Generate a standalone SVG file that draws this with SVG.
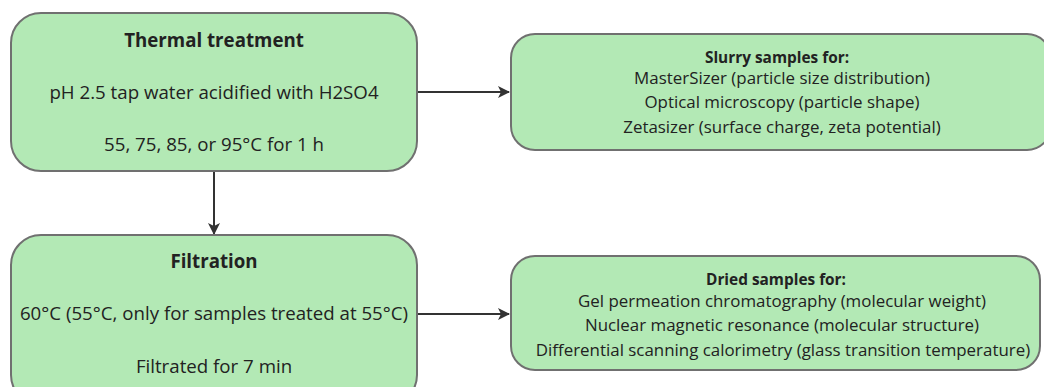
<svg xmlns="http://www.w3.org/2000/svg" width="1044" height="387" viewBox="0 0 1044 387">
<defs>
<marker id="arr" viewBox="0 0 12 12" refX="11" refY="6" markerWidth="12" markerHeight="12" markerUnits="userSpaceOnUse" orient="auto">
<path d="M0,0 L12,6 L0,12 L3,6 Z" fill="#333"/>
</marker>
</defs>
<style>
.box{fill:#b3e9b5;stroke:#707070;stroke-width:2}
.t{font-family:"Open Sans","Noto Sans",sans-serif;font-size:18.7px;fill:#222;text-anchor:middle}
.b{font-weight:bold}
.s{font-size:16.9px}
.h{font-size:15.4px}
.c{stroke:#333;stroke-width:2;fill:none}
</style>
<rect width="1044" height="387" fill="#fff"/>
<g id="connectors">
<line class="c" x1="417" y1="92" x2="509" y2="92" marker-end="url(#arr)"/>
<line class="c" x1="214" y1="171" x2="214" y2="234" marker-end="url(#arr)"/>
<line class="c" x1="417" y1="314" x2="509" y2="314" marker-end="url(#arr)"/>
</g>
<g id="thermal">
<rect class="box" x="11" y="13" width="406" height="158" rx="30"/>
<text class="t b" x="214" y="47">Thermal treatment</text>
<text class="t" x="214" y="99">pH 2.5 tap water acidified with H2SO4</text>
<text class="t" x="214" y="151">55, 75, 85, or 95°C for 1 h</text>
</g>
<g id="filtration">
<rect class="box" x="11" y="235" width="406" height="170" rx="30"/>
<text class="t b" x="214" y="268">Filtration</text>
<text class="t" x="214" y="320">60°C (55°C, only for samples treated at 55°C)</text>
<text class="t" x="214" y="373">Filtrated for 7 min</text>
</g>
<g id="slurry">
<rect class="box" x="511" y="34" width="540" height="116" rx="24"/>
<text class="t b h" x="777" y="63">Slurry samples for:</text>
<text class="t s" x="782" y="84">MasterSizer (particle size distribution)</text>
<text class="t s" x="782" y="108">Optical microscopy (particle shape)</text>
<text class="t s" x="782" y="133">Zetasizer (surface charge, zeta potential)</text>
</g>
<g id="dried">
<rect class="box" x="511" y="256" width="529" height="114" rx="24"/>
<text class="t b h" x="776" y="285">Dried samples for:</text>
<text class="t s" x="782" y="307">Gel permeation chromatography (molecular weight)</text>
<text class="t s" x="782" y="331">Nuclear magnetic resonance (molecular structure)</text>
<text class="t s" x="783" y="356">Differential scanning calorimetry (glass transition temperature)</text>
</g>
</svg>
